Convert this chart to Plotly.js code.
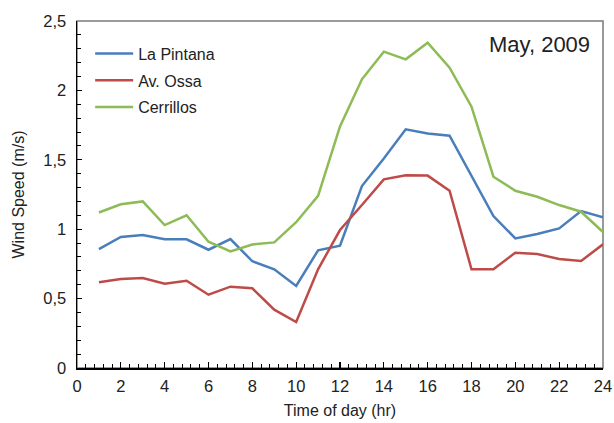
<!DOCTYPE html>
<html>
<head>
<meta charset="utf-8">
<script src="https://cdn.plot.ly/plotly-3.0.1.min.js"></script>
<style>html,body{margin:0;padding:0;background:#fff;}#chart{width:614px;height:423px;}</style>
</head>
<body>
<div id="chart"></div>
<script>
const hours = [1,2,3,4,5,6,7,8,9,10,11,12,13,14,15,16,17,18,19,20,21,22,23,24];
const laPintana = [0.857,0.944,0.958,0.927,0.927,0.852,0.929,0.769,0.711,0.591,0.848,0.881,1.311,1.51,1.72,1.69,1.674,1.38,1.095,0.934,0.965,1.006,1.131,1.085];
const avOssa = [0.617,0.641,0.648,0.607,0.629,0.528,0.586,0.574,0.42,0.331,0.711,0.994,1.174,1.359,1.388,1.386,1.277,0.711,0.711,0.831,0.821,0.785,0.771,0.891];
const cerrillos = [1.12,1.18,1.20,1.03,1.10,0.91,0.84,0.89,0.905,1.05,1.24,1.74,2.08,2.279,2.224,2.344,2.164,1.883,1.378,1.277,1.234,1.174,1.126,0.98];
const seriesNames = ["La Pintana","Av. Ossa","Cerrillos"];
const colors = ["#4A7EBB","#BE4B48","#8DBB55"];
const seriesData = [laPintana, avOssa, cerrillos];

const font = "Liberation Sans, Arial, sans-serif";
const traces = seriesData.map((ys,i)=>({
  x: hours, y: ys, type: "scatter", mode: "lines", name: seriesNames[i],
  legendgroup: "g"+i,
  line: {color: colors[i], width: 2.5}
}));

const layout = {
  width: 614, height: 423,
  margin: {l:77, r:11, t:21, b:55},
  separators: ", ",
  paper_bgcolor: "#fff", plot_bgcolor: "#fff",
  font: {family: font, size: 16, color: "#222"},
  showlegend: true,
  legend: {x: 0.025, y: 0.955, xanchor: "left", yanchor: "top", bgcolor: "rgba(0,0,0,0)",
           itemwidth: 38,
           font: {family: font, size: 16, color: "#222"}, traceorder: "grouped", tracegroupgap: 3},
  xaxis: {
    range: [0,24], dtick: 2, tick0: 0, showgrid: false, zeroline: false,
    showline: true, linecolor: "#000", linewidth: 1.5,
    ticks: "inside", ticklen: 6, tickcolor: "#000", tickwidth: 1.2,
    minor: {dtick: 0.4, ticks: "inside", ticklen: 4, tickcolor: "#000", tickwidth: 1},
    tickfont: {family: font, size: 16.5, color: "#222"}, ticklabelstandoff: 3,
    title: {text: "Time of day (hr)", font: {family: font, size: 16, color: "#222"}, standoff: 10}
  },
  yaxis: {
    range: [0,2.5], dtick: 0.5, tick0: 0, showgrid: false, zeroline: false,
    showline: true, linecolor: "#000", linewidth: 1.5,
    ticks: "inside", ticklen: 5, tickcolor: "#000", tickwidth: 1.2,
    minor: {dtick: 0.1, ticks: "inside", ticklen: 4, tickcolor: "#000", tickwidth: 1},
    tickfont: {family: font, size: 16.5, color: "#222"}, ticklabelstandoff: 6,
    title: {text: "Wind Speed (m/s)", font: {family: font, size: 16, color: "#222"}, standoff: 14}
  },
  shapes: [{type: "rect", xref: "paper", yref: "paper", x0: 0, x1: 1, y0: 0, y1: 1,
            line: {color: "#7a7a7a", width: 1.5}, layer: "below"}],
  annotations: [{text: "May, 2009", xref: "paper", yref: "paper", x: 0.98, y: 0.975,
                 xanchor: "right", yanchor: "top", showarrow: false,
                 font: {family: font, size: 22, color: "#222"}}]
};
Plotly.newPlot("chart", traces, layout, {displayModeBar: false, staticPlot: true});
</script>
</body>
</html>
